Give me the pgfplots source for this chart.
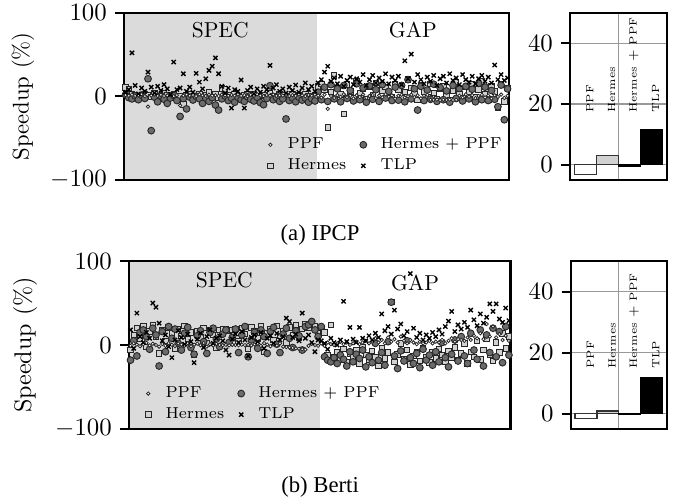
\documentclass[border=0pt]{standalone}
\usepackage{pgfplots}
\pgfplotsset{compat=1.18}
\usepackage{pgfplotstable}
\usepackage{fontspec}
\newfontfamily\capfont{Liberation Serif}
\definecolor{specgray}{gray}{0.86}
\definecolor{hpfill}{gray}{0.42}
\definecolor{herfill}{gray}{0.82}

\pgfplotstableread{
x ppf her hp tlp
0 1.5 10.5 2.0 5.0
1 0.8 9.0 -1.5 8.0
2 2.0 3.0 -3.0 52.0
3 0.5 1.0 0.5 13.0
4 1.2 -2.0 -4.0 3.0
5 2.5 0.5 1.5 10.0
6 0.3 2.0 -2.5 6.0
7 -12.4 1.5 21.0 29.0
8 1.0 -1.0 -41.0 11.0
9 2.2 3.5 -1.0 4.0
10 0.6 0.0 -6.5 12.0
11 1.8 -2.5 0.5 7.0
12 0.4 4.0 -3.5 14.0
13 1.1 1.0 -8.4 9.0
14 2.6 -0.5 -2.0 2.0
15 0.2 2.5 1.0 41.0
16 1.4 -1.5 -5.0 8.0
17 -11.0 0.5 -24.0 10.0
18 0.9 -9.6 -2.5 27.0
19 2.1 1.5 -15.0 6.0
20 0.7 3.0 -1.0 11.0
21 1.6 -2.0 -4.4 5.0
22 0.3 0.5 0.0 27.5
23 2.4 2.0 -3.0 17.0
24 1.0 -1.0 -8.4 9.0
25 0.5 1.0 -2.0 21.0
26 1.9 4.5 -6.0 31.0
27 0.8 -0.5 -1.5 36.0
28 1.3 2.0 -10.4 46.0
29 0.4 -2.0 -16.4 27.0
30 2.0 9.5 -3.0 12.0
31 1.2 8.0 0.5 4.0
32 0.6 1.5 -5.0 10.0
33 1.7 -1.0 -2.0 -14.0
34 0.9 2.5 -7.0 8.0
35 2.3 0.0 -1.0 6.0
36 0.5 -2.5 -4.0 19.5
37 1.4 1.0 -6.0 -14.0
38 0.2 3.0 -0.5 7.0
39 1.8 -0.5 -3.5 11.0
40 0.7 2.0 -5.5 3.0
41 2.5 -1.5 -1.0 9.0
42 1.0 0.5 -7.5 5.0
43 0.3 1.5 -10.0 12.0
44 1.6 -1.0 -2.5 8.0
45 0.8 4.0 12.7 37.0
46 2.2 0.0 -4.0 10.0
47 0.5 -2.0 -1.5 14.0
48 1.3 2.5 -6.0 6.0
49 0.9 1.0 -3.0 9.0
50 2.0 -1.5 -27.0 4.0
51 0.4 0.5 -5.0 11.0
52 1.5 3.0 -2.0 7.0
53 0.6 -0.5 -6.5 13.5
54 2.4 1.5 -1.0 5.0
55 1.1 -1.0 -4.5 10.0
56 0.3 2.0 -2.0 16.0
57 1.7 0.5 -7.0 8.0
58 0.8 -2.0 -3.0 12.0
59 2.1 1.0 -5.5 6.0
60 1.0 12.0 5.0 16.0
61 -1.5 15.0 -4.0 20.0
62 2.0 8.0 11.0 29.0
63 -15.0 -37.0 -6.0 36.0
64 0.5 5.0 14.0 18.0
65 -2.0 25.0 -3.0 22.0
66 1.5 10.0 9.0 15.0
67 -0.5 2.0 -6.5 24.0
68 2.5 -21.0 13.0 12.0
69 -1.0 14.0 -2.5 19.0
70 0.8 6.0 7.0 23.0
71 -2.5 -2.0 -5.5 14.0
72 1.2 18.0 15.0 21.0
73 -0.8 4.0 -4.0 17.0
74 2.2 9.0 10.0 26.0
75 -1.8 -3.0 -7.0 13.0
76 0.4 12.0 12.5 20.0
77 1.6 1.0 -3.5 25.0
78 -2.2 16.0 8.0 16.0
79 0.9 -4.0 -6.0 22.0
80 -1.2 7.0 14.0 18.0
81 2.4 11.0 -2.0 27.0
82 -0.4 3.0 6.0 15.0
83 1.1 -1.0 -5.0 23.0
84 -2.8 14.0 11.0 19.0
85 0.6 8.0 -4.5 24.0
86 1.9 -2.5 13.0 14.0
87 -1.4 5.0 -6.5 42.5
88 0.2 20.0 20.0 21.0
89 2.0 10.0 -3.0 50.5
90 -0.9 2.0 9.0 17.0
91 1.3 -4.0 -16.4 26.0
92 -2.4 13.0 12.0 20.0
93 0.7 6.0 -5.0 15.0
94 1.8 -1.5 7.5 23.0
95 -4.0 15.0 -3.5 18.0
96 -4.2 4.0 14.5 25.0
97 -3.8 -3.0 -6.0 13.0
98 -4.5 9.0 10.5 21.0
99 -4.0 12.0 -4.0 24.0
100 -4.3 1.0 6.5 16.0
101 -3.9 -4.5 -7.0 27.0
102 -4.4 7.0 13.0 19.0
103 -4.1 17.0 -2.5 22.0
104 0.8 3.0 9.5 14.0
105 -1.6 -2.0 -5.5 26.0
106 2.3 11.0 12.0 20.0
107 -0.6 5.0 -3.0 17.0
108 1.4 14.0 8.5 24.0
109 -2.1 -1.0 -6.5 15.0
110 0.5 8.0 15.5 21.0
111 1.7 18.0 -4.0 25.0
112 -1.3 2.0 11.0 18.0
113 0.9 -3.5 -5.0 23.0
114 -2.6 12.0 7.0 16.0
115 1.2 6.0 -3.5 37.4
116 -0.7 -14.0 -12.4 20.0
117 2.1 15.0 13.5 26.0
118 -1.9 -6.0 -28.0 19.0
119 0.6 10.0 9.0 22.0
}\ipcp

\pgfplotstableread{
x ppf her hp tlp
0 -1.0 -6.0 -18.0 18.0
1 2.0 12.0 5.0 -4.0
2 0.5 20.0 -13.0 38.0
3 -1.5 8.0 15.0 10.0
4 1.0 22.0 18.0 3.0
5 2.5 -2.0 10.0 15.0
6 -0.5 16.0 -5.0 8.0
7 1.5 24.0 20.0 50.0
8 0.0 10.0 12.0 45.0
9 -2.0 -10.0 -25.0 26.0
10 1.2 18.0 16.0 5.0
11 -1.0 5.0 -8.0 12.0
12 2.2 21.0 22.0 -2.0
13 0.3 14.0 8.0 -15.0
14 -1.2 -4.0 19.0 6.0
15 1.8 19.0 2.0 17.0
16 0.6 11.0 -6.0 9.0
17 -0.8 23.0 14.0 1.0
18 2.0 7.0 21.0 13.0
19 -1.5 15.0 -3.0 4.0
20 0.4 -11.0 -11.0 -21.0
21 1.6 17.0 11.0 7.0
22 -0.3 9.0 17.0 14.0
23 2.4 20.0 4.0 -3.0
24 -1.8 2.0 -10.0 10.0
25 0.9 18.0 15.0 18.0
26 -0.6 12.0 20.0 2.0
27 1.3 -3.0 7.0 8.0
28 0.1 18.0 -2.0 11.0
29 -0.2 19.0 13.0 5.0
30 0.2 18.5 18.0 -6.0
31 -0.4 17.5 3.0 -12.0
32 0.3 18.0 9.0 7.0
33 0.0 19.0 19.0 13.0
34 -0.3 4.0 -9.0 3.0
35 0.4 20.0 12.0 16.0
36 -0.1 13.0 22.0 6.0
37 0.2 -5.0 -14.0 -13.0
38 -0.5 21.0 6.0 9.0
39 0.6 16.0 15.0 12.0
40 1.8 8.0 -4.0 4.0
41 -1.0 22.0 18.0 15.0
42 2.3 -8.0 10.0 -4.0
43 0.5 14.0 -10.0 8.0
44 -1.4 19.0 16.0 11.0
45 1.0 6.0 21.0 2.0
46 -0.7 23.0 1.0 14.0
47 2.0 11.0 -9.0 6.0
48 -2.0 17.0 13.0 10.0
49 -2.5 3.0 20.0 32.0
50 -3.0 21.0 8.0 28.0
51 -3.5 12.0 -3.0 9.0
52 -4.0 24.0 17.0 13.0
53 -4.5 9.0 11.0 5.0
54 -5.0 19.0 -6.0 38.0
55 -5.5 25.0 22.0 8.0
56 -1.0 20.0 24.0 12.0
57 1.5 26.0 28.0 3.0
58 0.0 22.0 18.0 -8.0
59 -1.0 14.0 10.0 6.0
60 2.0 20.0 22.0 5.0
61 -1.0 15.0 -14.0 2.0
62 3.0 -12.0 -18.0 -5.0
63 1.0 24.0 -20.0 8.0
64 0.0 -15.0 -15.0 3.0
65 2.0 -8.0 -22.0 0.0
66 4.0 -18.0 -12.0 6.0
67 1.0 -5.0 -17.0 52.0
68 3.0 -20.0 -25.0 4.0
69 0.0 -10.0 -8.0 21.0
70 2.0 -14.0 -20.0 7.0
71 4.0 -6.0 -11.0 3.0
72 1.0 -22.0 -16.0 21.0
73 3.0 -3.0 -6.0 8.0
74 5.0 -12.0 -26.0 5.0
75 2.0 -18.0 -14.0 11.0
76 4.0 -7.0 -21.0 6.0
77 8.0 -15.0 2.0 14.0
78 3.0 -25.0 -18.0 9.0
79 6.0 -4.0 -9.0 37.0
80 2.0 -16.0 -24.0 17.0
81 9.0 -9.0 4.0 22.0
82 4.0 51.0 51.0 13.0
83 7.0 -20.0 -13.0 41.5
84 3.0 -11.0 -28.0 19.0
85 10.0 2.0 -7.0 25.0
86 5.0 -17.0 -19.0 11.0
87 2.0 -6.0 5.0 16.0
88 6.0 -23.0 -15.0 85.0
89 3.0 -13.0 -22.0 20.0
90 1.0 -8.0 -10.0 9.0
91 4.0 -19.0 -27.0 14.0
92 2.0 -4.0 -5.0 6.0
93 3.0 -14.0 -18.0 12.0
94 5.0 -21.0 -12.0 8.0
95 2.0 -9.0 -24.0 15.0
96 4.0 -16.0 -8.0 10.0
97 3.0 -5.0 -20.0 18.0
98 6.0 -12.0 3.0 13.0
99 2.0 -20.0 -15.0 22.0
100 5.0 -7.0 -26.0 28.5
101 8.0 -15.0 -11.0 40.0
102 4.0 -3.0 6.0 16.0
103 7.0 -18.0 -19.0 24.0
104 6.0 -10.0 10.0 19.0
105 5.0 2.0 -13.0 27.0
106 9.0 -22.0 -22.0 21.0
107 6.0 -8.0 14.0 41.5
108 11.0 -14.0 -6.0 30.0
109 8.0 5.0 -17.0 23.0
110 14.0 -17.0 18.0 37.0
111 7.0 -6.0 -25.0 26.0
112 25.0 8.0 12.0 33.0
113 10.0 -12.0 -9.0 49.0
114 22.0 -19.0 20.0 40.0
115 9.0 3.0 -14.0 49.0
116 13.0 -9.0 16.0 31.0
117 6.0 14.0 -21.0 27.0
118 11.0 -4.0 22.0 44.0
119 5.0 10.0 -12.0 29.0
}\berti

\tikzset{blab/.style={rotate=90, anchor=west, font=\fontsize{4.6}{5}\selectfont, inner sep=0pt}}

\pgfplotsset{
  scat/.style={
    scale only axis, clip=false,
    xmin=-0.5, xmax=119.5, ymin=-100, ymax=100,
    ytick={-100,0,100}, xtick=\empty,
    ytick pos=left,
    tick align=outside, major tick length=4pt,
    y tick style={black, line width=0.9pt},
    axis line style={black, line width=0.9pt},
    yticklabel style={font=\fontsize{11}{13}\selectfont},
    ylabel={Speedup (\%)},
    legend cell align=left,
    legend image code/.code={\path (0cm,0cm) (0.34cm,0cm); \draw[mark repeat=2,mark phase=2,##1] plot coordinates {(0cm,0cm)(0.15cm,0cm)(0.3cm,0cm)};},
  },
  bars/.style={
    scale only axis, clip=false,
    xmin=-0.7, xmax=3.7, ymin=-5, ymax=50,
    ytick={0,20,40}, ymajorgrids,
    ytick pos=left,
    xtick={1.5}, xticklabels={}, xmajorgrids,
    x tick style={draw=none},
    tick align=outside, major tick length=4pt,
    y tick style={black, line width=0.9pt},
    major grid style={gray!80, line width=0.5pt},
    axis line style={black, line width=0.9pt},
    yticklabel style={font=\fontsize{11}{13}\selectfont},
  },
  hpst/.style={only marks, mark=*, mark size=1.5pt, mark options={fill=hpfill, draw=black!85, line width=0.4pt}},
  herst/.style={only marks, mark=square*, mark size=1.2pt, mark options={fill=herfill, draw=black!85, line width=0.4pt}},
  ppfst/.style={only marks, mark=*, mark size=0.75pt, mark options={fill=white, draw=black!85, line width=0.35pt}},
  tlpst/.style={only marks, mark=x, mark size=1.3pt, mark options={draw=black, line width=0.6pt}},
}

\begin{document}
\begin{tikzpicture}
\path[use as bounding box] (0,0) rectangle (300.9pt,219.4pt);

% ---------- (a) IPCP scatter
\begin{axis}[scat, at={(54.6pt,140.1pt)}, anchor=south west, width=169.7pt, height=73.7pt,
  ylabel style={font=\fontsize{10}{12}\selectfont, at={(axis description cs:-0.262,0.5)}, anchor=center},
  legend style={at={(axis description cs:0.335,0.31)}, anchor=north west, draw=none, fill=none,
    font=\scriptsize, legend columns=2, /tikz/every even column/.append style={column sep=1pt}, row sep=-1pt}]
\fill[specgray] (axis cs:-0.5,-100) rectangle (axis cs:59.5,100);
\node[font=\fontsize{9.5}{11}\selectfont] at (axis description cs:0.25,0.895) {SPEC};
\node[font=\fontsize{9.5}{11}\selectfont] at (axis description cs:0.75,0.895) {GAP};
\addplot[herst, forget plot] table[x=x, y=her] {\ipcp};
\addplot[hpst, forget plot] table[x=x, y=hp] {\ipcp};
\addplot[ppfst, forget plot] table[x=x, y=ppf] {\ipcp};
\addplot[tlpst, forget plot] table[x=x, y=tlp] {\ipcp};
\draw[line width=0.9pt] (rel axis cs:0,0) rectangle (rel axis cs:1,1);
\addlegendimage{ppfst}\addlegendentry{PPF}
\addlegendimage{hpst}\addlegendentry{Hermes $+$ PPF}
\addlegendimage{herst}\addlegendentry{Hermes}
\addlegendimage{tlpst}\addlegendentry{TLP}
\end{axis}

% ---------- (a) IPCP bars
\begin{axis}[bars, at={(251.1pt,140.1pt)}, anchor=south west, width=42.6pt, height=73.7pt]
\addplot[ybar, bar width=1, bar shift=0pt, fill=white, draw=black!80, line width=0.6pt] coordinates {(0,-3.2)};
\addplot[ybar, bar width=1, bar shift=0pt, fill=herfill, draw=black!80, line width=0.6pt] coordinates {(1,3.1)};
\addplot[ybar, bar width=1, bar shift=0pt, fill=hpfill, draw=black, line width=0.6pt] coordinates {(2,-0.4)};
\addplot[ybar, bar width=1, bar shift=0pt, fill=black, draw=black, line width=0.6pt] coordinates {(3,11.7)};
\node[blab] at (axis cs:0.2,17) {PPF};
\node[blab] at (axis cs:1.2,17) {Hermes};
\node[blab] at (axis cs:2.2,17) {Hermes $+$ PPF};
\node[blab] at (axis cs:3.2,17) {TLP};
\draw[line width=0.9pt] (rel axis cs:0,0) rectangle (rel axis cs:1,1);
\end{axis}

% ---------- (b) Berti scatter
\begin{axis}[scat, at={(56.8pt,30.4pt)}, anchor=south west, width=168.1pt, height=74pt,
  ylabel style={font=\fontsize{10.6}{12}\selectfont, at={(axis description cs:-0.272,0.5)}, anchor=center},
  legend style={at={(axis description cs:0.005,0.31)}, anchor=north west, draw=none, fill=none,
    font=\scriptsize, legend columns=2, /tikz/every even column/.append style={column sep=1pt}, row sep=-1pt}]
\fill[specgray] (axis cs:-0.5,-100) rectangle (axis cs:59.5,100);
\node[font=\fontsize{9.5}{11}\selectfont] at (axis description cs:0.25,0.885) {SPEC};
\node[font=\fontsize{9.5}{11}\selectfont] at (axis description cs:0.75,0.87) {GAP};
\addplot[herst, forget plot] table[x=x, y=her] {\berti};
\addplot[hpst, forget plot] table[x=x, y=hp] {\berti};
\addplot[ppfst, forget plot] table[x=x, y=ppf] {\berti};
\addplot[tlpst, forget plot] table[x=x, y=tlp] {\berti};
\draw[line width=0.9pt] (rel axis cs:0,0) rectangle (rel axis cs:1,1);
\addlegendimage{ppfst}\addlegendentry{PPF}
\addlegendimage{hpst}\addlegendentry{Hermes $+$ PPF}
\addlegendimage{herst}\addlegendentry{Hermes}
\addlegendimage{tlpst}\addlegendentry{TLP}
\end{axis}

% ---------- (b) Berti bars
\begin{axis}[bars, at={(251.4pt,30.4pt)}, anchor=south west, width=42.3pt, height=74pt]
\addplot[ybar, bar width=1, bar shift=0pt, fill=white, draw=black!80, line width=0.6pt] coordinates {(0,-1.5)};
\addplot[ybar, bar width=1, bar shift=0pt, fill=herfill, draw=black!80, line width=0.6pt] coordinates {(1,0.9)};
\addplot[ybar, bar width=1, bar shift=0pt, fill=hpfill, draw=black, line width=0.6pt] coordinates {(2,-0.2)};
\addplot[ybar, bar width=1, bar shift=0pt, fill=black, draw=black, line width=0.6pt] coordinates {(3,11.8)};
\node[blab] at (axis cs:0.2,14.6) {PPF};
\node[blab] at (axis cs:1.2,14.6) {Hermes};
\node[blab] at (axis cs:2.2,14.6) {Hermes $+$ PPF};
\node[blab] at (axis cs:3.2,14.6) {TLP};
\draw[line width=0.9pt] (rel axis cs:0,0) rectangle (rel axis cs:1,1);
\end{axis}

\node[font=\capfont\fontsize{10}{12}\selectfont] at (141pt,115.9pt) {(a) IPCP};
\node[font=\capfont\fontsize{10}{12}\selectfont] at (141pt,4.8pt) {(b) Berti};
\end{tikzpicture}
\end{document}
